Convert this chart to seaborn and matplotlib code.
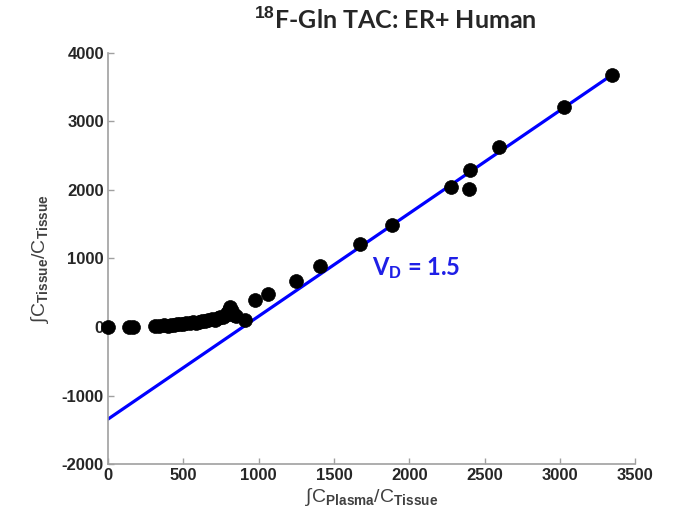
import matplotlib
matplotlib.use("Agg")
import matplotlib.pyplot as plt
import seaborn as sns
import pandas as pd

# integrated plasma / tissue  vs  integrated tissue / tissue (Logan-style plot)
x_vals = [0, 140, 165,
          310, 340, 370, 400, 420, 440, 460, 480, 500, 520, 540, 560, 580,
          600, 620, 640, 660, 690, 710, 730, 740, 760, 780, 790, 800, 810,
          820, 835, 850,
          910, 974, 1062, 1250, 1405, 1670, 1887, 2279, 2394, 2405, 2593,
          3026, 3344]
y_vals = [0, 0, 0,
          20, 15, 25, 20, 35, 30, 45, 40, 50, 60, 55, 70, 65,
          80, 90, 85, 110, 120, 100, 130, 150, 140, 170, 200, 250, 300,
          230, 180, 160,
          110, 395, 482, 676, 891, 1207, 1488, 2047, 2017, 2290, 2621,
          3213, 3675]

# fitted line end points (slope = VD = 1.5)
fit_x = [0, 3344]
fit_y = [-1340, 3676]

title = r"$^{\mathbf{18}}$F-Gln TAC: ER+ Human"
vd_label = r"V$_\mathbf{D}$ = 1.5"

df = pd.DataFrame({"x": x_vals, "y": y_vals})
fit = pd.DataFrame({"x": fit_x, "y": fit_y})

sns.set_style("white")
plt.rcParams["font.family"] = ["Liberation Sans", "DejaVu Sans"]
plt.rcParams["mathtext.fontset"] = "custom"
plt.rcParams["mathtext.rm"] = "Liberation Sans"
plt.rcParams["mathtext.it"] = "Liberation Sans"
plt.rcParams["mathtext.bf"] = "Liberation Sans:bold"
plt.rcParams["axes.unicode_minus"] = False

fig = plt.figure(figsize=(6.76, 5.31), dpi=100)
ax = fig.add_axes([0.160, 0.1256, 0.780, 0.7752])

sns.lineplot(data=fit, x="x", y="y", color="#0000ff", linewidth=2.3, ax=ax)
sns.scatterplot(data=df, x="x", y="y", color="black", s=100, edgecolor="black",
                linewidth=0.5, ax=ax, zorder=3, clip_on=False)

ax.set_xlim(0, 3500)
ax.set_ylim(-2000, 4000)
ax.set_xticks(range(0, 3501, 500))
ax.set_yticks(range(-2000, 4001, 1000))

for side in ["top", "right"]:
    ax.spines[side].set_visible(False)
for side in ["left", "bottom"]:
    ax.spines[side].set_color("#a0a0a0")
    ax.spines[side].set_linewidth(1.2)
ax.tick_params(left=True, bottom=True, direction="in", length=4,
               color="#a0a0a0", width=1, labelsize=12, pad=3)
for lbl in ax.get_xticklabels() + ax.get_yticklabels():
    lbl.set_fontweight("bold")

ax.set_xlabel(r"$\int$C$_\mathbf{Plasma}$/C$_\mathbf{Tissue}$", fontsize=14,
              color="#404040", labelpad=2)
ax.set_ylabel(r"$\int$C$_\mathbf{Tissue}$/C$_\mathbf{Tissue}$", fontsize=14,
              color="#404040", labelpad=8)

ax.text(1750, 760, vd_label, color="#1f1fe6", fontsize=17, fontweight="bold",
        family=["Lato", "DejaVu Sans"])

fig.text(0.585, 0.962, title, ha="center", va="center", fontsize=18,
         fontweight="bold", family=["Lato", "DejaVu Sans"])

fig.savefig("out.png", dpi=100)
